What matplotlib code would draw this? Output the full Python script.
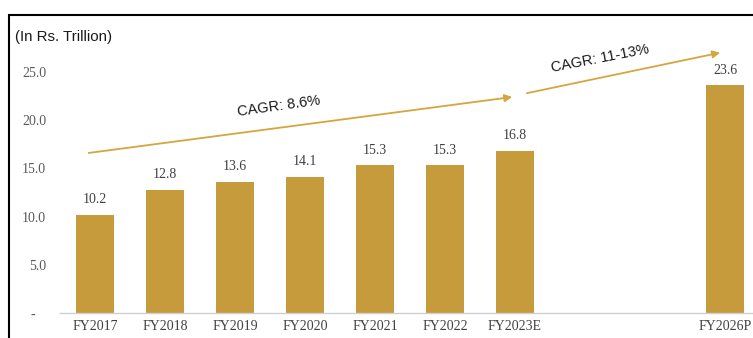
import matplotlib

matplotlib.use("Agg")
import matplotlib.pyplot as plt
from matplotlib.patches import Rectangle

YEARS = ["FY2017", "FY2018", "FY2019", "FY2020", "FY2021", "FY2022", "FY2023E", "", "", "FY2026P"]
VALUES = [10.2, 12.8, 13.6, 14.1, 15.3, 15.3, 16.8, None, None, 23.6]
YTICKS = [0, 5, 10, 15, 20, 25]
YTICK_LABELS = ["-   ", "5.0", "10.0", "15.0", "20.0", "25.0"]

GOLD = "#C59B3C"
ARROW = "#D4A63E"
SERIF = "Liberation Serif"
SANS = "Liberation Sans"

fig = plt.figure(figsize=(7.53, 3.38), dpi=100)
ax = fig.add_axes([60 / 753, 25 / 338, 700 / 753, 255.5 / 338])

pos = [i for i, v in enumerate(VALUES) if v is not None]
vals = [v for v in VALUES if v is not None]
ax.bar(pos, vals, width=0.55, color=GOLD, zorder=2)
for x, v in zip(pos, vals):
    ax.text(x, v + 0.9, f"{v:.1f}", ha="center", va="bottom", fontsize=10,
            family=SERIF, color="#404040")

ax.set_xlim(-0.5, 9.5)
ax.set_ylim(0, 26.5)
ax.set_xticks(range(len(YEARS)))
ax.set_xticklabels(YEARS, family=SERIF, fontsize=10, color="#404040")
ax.set_yticks(YTICKS)
ax.set_yticklabels(YTICK_LABELS, family=SERIF, fontsize=10, color="#595959")
ax.tick_params(axis="both", length=0)
ax.tick_params(axis="y", pad=10)
ax.tick_params(axis="x", pad=5)
for s in ["top", "right", "left"]:
    ax.spines[s].set_visible(False)
ax.spines["bottom"].set_color("#D0D0D0")
ax.spines["bottom"].set_linewidth(1)

# growth arrows
arrow = dict(arrowstyle="-|>", color=ARROW, lw=1.3, mutation_scale=11, shrinkA=0, shrinkB=0)
ax.annotate("", xy=(5.96, 22.4), xytext=(-0.09, 16.6), arrowprops=arrow, annotation_clip=False)
ax.annotate("", xy=(8.93, 27.0), xytext=(6.17, 22.8), arrowprops=arrow, annotation_clip=False)
ax.text(2.62, 21.4, "CAGR: 8.6%", family=SANS, fontsize=10.5, rotation=8,
        ha="center", va="center", color="#1a1a1a")
ax.text(7.22, 26.4, "CAGR: 11-13%", family=SANS, fontsize=10.5, rotation=11,
        ha="center", va="center", color="#1a1a1a")

fig.text(15 / 753, 1 - 37 / 338, "(In Rs. Trillion)", family=SANS, fontsize=10.8,
         ha="left", va="center", color="#1a1a1a")

# frame around the panel
fig.patches.append(Rectangle((9 / 753, -0.1), 1.0, 1.1 - 15 / 338, transform=fig.transFigure,
                             fill=False, edgecolor="black", linewidth=1.5))

fig.savefig("out.png", dpi=100)
